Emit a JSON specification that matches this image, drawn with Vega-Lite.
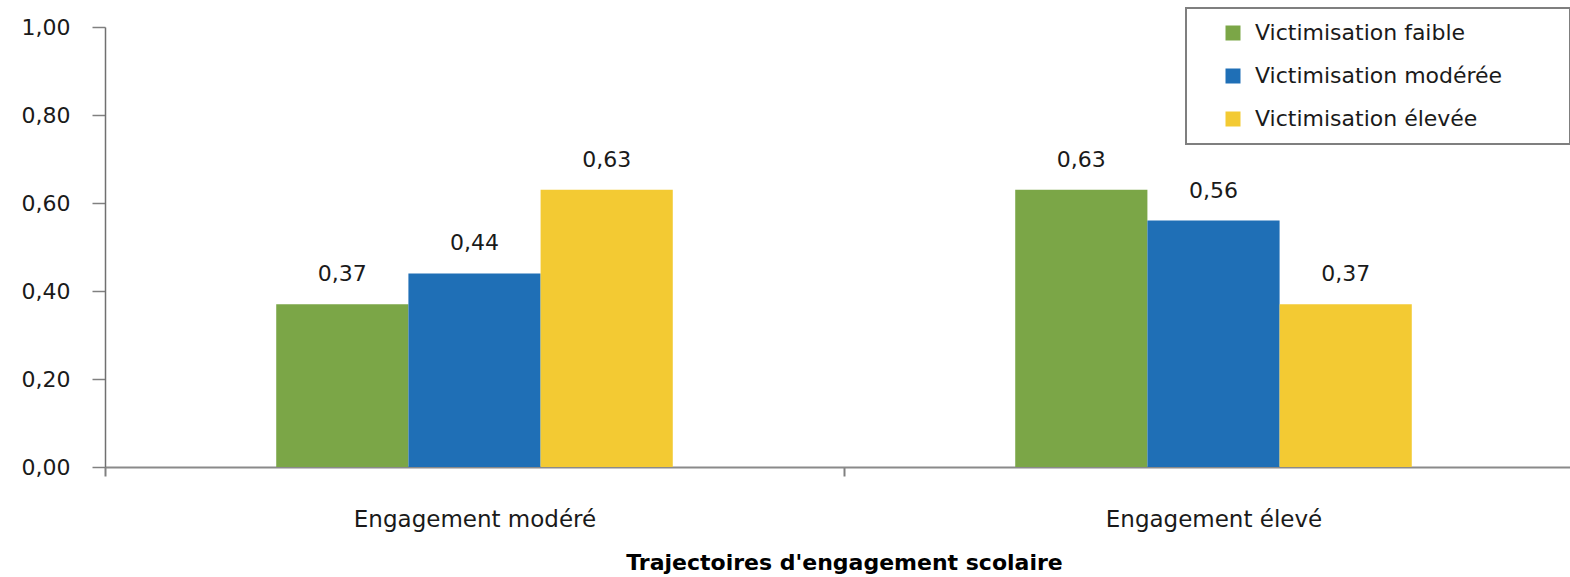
{
  "$schema": "https://vega.github.io/schema/vega-lite/v6.json",
  "width": 1478,
  "height": 440,
  "padding": {"left": 105, "top": 27, "right": 0, "bottom": 110},
  "autosize": {"type": "none"},
  "background": "white",
  "config": {
    "font": "DejaVu Sans",
    "view": {"stroke": null},
    "axis": {"labelColor": "#1a1a1a", "titleColor": "#000000"},
    "locale": {"number": {"decimal": ",", "thousands": " ", "grouping": [3], "currency": ["", " €"]}}
  },
  "data": {
    "values": [
      {"engagement": "Engagement modéré", "victimisation": "Victimisation faible", "value": 0.37},
      {"engagement": "Engagement modéré", "victimisation": "Victimisation modérée", "value": 0.44},
      {"engagement": "Engagement modéré", "victimisation": "Victimisation élevée", "value": 0.63},
      {"engagement": "Engagement élevé", "victimisation": "Victimisation faible", "value": 0.63},
      {"engagement": "Engagement élevé", "victimisation": "Victimisation modérée", "value": 0.56},
      {"engagement": "Engagement élevé", "victimisation": "Victimisation élevée", "value": 0.37}
    ]
  },
  "encoding": {
    "x": {
      "field": "engagement",
      "type": "nominal",
      "sort": ["Engagement modéré", "Engagement élevé"],
      "scale": {"paddingInner": 0.4634, "paddingOuter": 0.2317},
      "axis": {
        "title": "Trajectoires d'engagement scolaire",
        "titleFont": "DejaVu Sans",
        "titleFontSize": 22,
        "titleFontWeight": "bold",
        "titlePadding": 21,
        "labelAngle": 0,
        "labelFontSize": 23,
        "labelLimit": 500,
        "labelPadding": 32,
        "bandPosition": 0,
        "tickExtra": false,
        "tickOffset": -171,
        "labelOffset": 171,
        "tickSize": 9,
        "tickColor": "#808080",
        "tickWidth": 2,
        "domainColor": "#8a8a8a",
        "domainWidth": 2
      }
    },
    "xOffset": {
      "field": "victimisation",
      "type": "nominal",
      "sort": ["Victimisation faible", "Victimisation modérée", "Victimisation élevée"],
      "scale": {"paddingInner": 0, "paddingOuter": 0}
    },
    "y": {
      "field": "value",
      "type": "quantitative",
      "scale": {"domain": [0, 1], "nice": false},
      "axis": {
        "title": null,
        "values": [0, 0.2, 0.4, 0.6, 0.8, 1.0],
        "format": ".2f",
        "labelFontSize": 22,
        "labelPadding": 22,
        "tickSize": 13,
        "tickColor": "#808080",
        "tickWidth": 1.5,
        "domainColor": "#707070",
        "domainWidth": 1.5,
        "grid": false
      }
    }
  },
  "layer": [
    {
      "mark": {"type": "bar"},
      "encoding": {
        "color": {
          "field": "victimisation",
          "type": "nominal",
          "sort": ["Victimisation faible", "Victimisation modérée", "Victimisation élevée"],
          "scale": {
            "domain": ["Victimisation faible", "Victimisation modérée", "Victimisation élevée"],
            "range": ["#7ba647", "#1f6fb6", "#f3ca33"]
          },
          "legend": {
            "title": " ",
            "titleOrient": "right",
            "titlePadding": 54,
            "titleFontSize": 10,
            "orient": "none",
            "legendX": 1081,
            "legendY": -19,
            "symbolType": "square",
            "symbolSize": 225,
            "symbolStrokeWidth": 0,
            "symbolOpacity": 1,
            "symbolOffset": 22,
            "labelOffset": 11,
            "labelFontSize": 22,
            "labelLimit": 500,
            "labelColor": "#1a1a1a",
            "rowPadding": 21,
            "padding": 14,
            "strokeColor": "#7f7f7f",
            "fillColor": "white",
            "encode": {"legend": {"update": {"strokeWidth": {"value": 2}}}}
          }
        }
      }
    },
    {
      "mark": {"type": "text", "baseline": "alphabetic", "dy": -23, "fontSize": 22, "color": "#1a1a1a"},
      "encoding": {
        "text": {"field": "value", "type": "quantitative", "format": ".2f"},
        "detail": {"field": "victimisation"}
      }
    }
  ]
}
